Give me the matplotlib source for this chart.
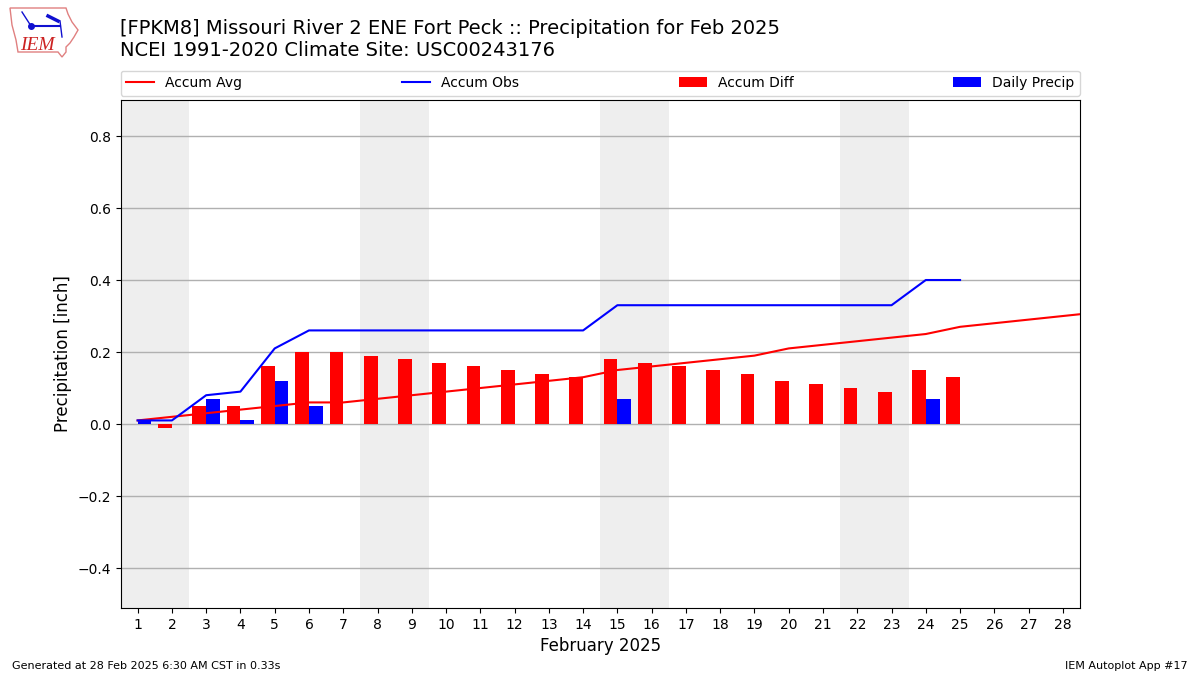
import matplotlib
matplotlib.use("Agg")
import matplotlib.pyplot as plt
from matplotlib.lines import Line2D
from matplotlib.patches import Polygon
import numpy as np

days = list(range(1, 29))
avg_days = list(range(1, 30))
accum_avg = [0.01, 0.02, 0.03, 0.04, 0.05, 0.06, 0.06, 0.07, 0.08, 0.09, 0.10, 0.11, 0.12, 0.13, 0.15,
             0.16, 0.17, 0.18, 0.19, 0.21, 0.22, 0.23, 0.24, 0.25, 0.27, 0.28, 0.29, 0.30, 0.31]
obs_days = list(range(1, 26))
accum_obs = [0.01, 0.01, 0.08, 0.09, 0.21, 0.26, 0.26, 0.26, 0.26, 0.26, 0.26, 0.26, 0.26, 0.26, 0.33,
             0.33, 0.33, 0.33, 0.33, 0.33, 0.33, 0.33, 0.33, 0.40, 0.40]
accum_diff = [0.00, -0.01, 0.05, 0.05, 0.16, 0.20, 0.20, 0.19, 0.18, 0.17, 0.16, 0.15, 0.14, 0.13, 0.18,
              0.17, 0.16, 0.15, 0.14, 0.12, 0.11, 0.10, 0.09, 0.15, 0.13]
daily_precip = [0.01, 0.00, 0.07, 0.01, 0.12, 0.05, 0, 0, 0, 0, 0, 0, 0, 0, 0.07,
                0, 0, 0, 0, 0, 0, 0, 0, 0.07, 0.00]
weekends = [(0.5, 2.5), (7.5, 9.5), (14.5, 16.5), (21.5, 23.5)]
yticks = [-0.4, -0.2, 0.0, 0.2, 0.4, 0.6, 0.8]

W, H = 1200, 675
fig = plt.figure(figsize=(12, 6.75), dpi=100)
ax = fig.add_axes([120.5 / W, 1 - 608 / H, 959.5 / W, 508 / H])

for a, b in weekends:
    ax.axvspan(a, b, color="#eeeeee", lw=0, zorder=0)
ax.bar(obs_days, accum_diff, width=-0.4, align="edge", color="red", label="Accum Diff", zorder=3)
ax.bar(obs_days, daily_precip, width=0.4, align="edge", color="blue", label="Daily Precip", zorder=3)
ax.plot(avg_days, accum_avg, color="red", lw=1.5, label="Accum Avg", zorder=4)
ax.plot(obs_days, accum_obs, color="blue", lw=1.5, label="Accum Obs", zorder=5)

ax.set_xlim(0.5, 28.5)
ax.set_ylim(-0.511, 0.9)
ax.set_xticks(days)
ax.set_yticks(yticks)
ax.yaxis.grid(True, color="#b0b0b0", lw=1)
ax.set_axisbelow(True)
ax.tick_params(labelsize=10)
ax.set_xlabel("February 2025", fontsize=12, labelpad=4)
ax.set_ylabel("Precipitation [inch]", fontsize=12)

h, l = ax.get_legend_handles_labels()
order = [l.index(n) for n in ["Accum Avg", "Accum Obs", "Accum Diff", "Daily Precip"]]
ax.legend([h[i] for i in order], [l[i] for i in order], ncol=4, mode="expand",
          loc="lower left", bbox_to_anchor=(0, 1.0085, 1, 0.05), borderaxespad=0, fontsize=10)

fig.text(120 / W, 1 - 29 / H, "[FPKM8] Missouri River 2 ENE Fort Peck :: Precipitation for Feb 2025",
         fontsize=14, va="center", ha="left")
fig.text(120 / W, 1 - 51 / H, "NCEI 1991-2020 Climate Site: USC00243176",
         fontsize=14, va="center", ha="left")
fig.text(12 / W, 1 - 666 / H, "Generated at 28 Feb 2025 6:30 AM CST in 0.33s", fontsize=8, va="center")
fig.text(1188 / W, 1 - 666 / H, "IEM Autoplot App #17", fontsize=8, va="center", ha="right")

# logo, in pixel coordinates of the figure
logo = fig.add_axes([0, 1 - 65 / H, 90 / W, 65 / H])
logo.set_xlim(0, 90)
logo.set_ylim(65, 0)
logo.axis("off")
outline = [(10, 8), (66, 8), (68, 14), (72, 22), (78, 30), (74, 37), (70, 43), (66, 47),
           (66, 52), (62, 57), (58, 52), (22, 52), (18, 52), (16, 40), (12, 25)]
logo.add_patch(Polygon(outline, closed=True, fill=False, ec="#e08080", lw=1))
logo.plot([31, 60], [26, 26], color="#1010d0", lw=1.5)
logo.plot([22, 31], [12, 26], color="#1010d0", lw=1)
logo.plot([31], [26], "o", color="#1010d0", ms=4)
logo.plot([48, 58], [16, 21], color="#1010d0", lw=2.5)
logo.plot([60, 62], [21, 37], color="#1010d0", lw=1)
logo.text(37, 45, "IEM", color="#cc2222", fontsize=14, family="Liberation Serif",
          style="italic", ha="center", va="center")

fig.savefig("out.png", dpi=100)
